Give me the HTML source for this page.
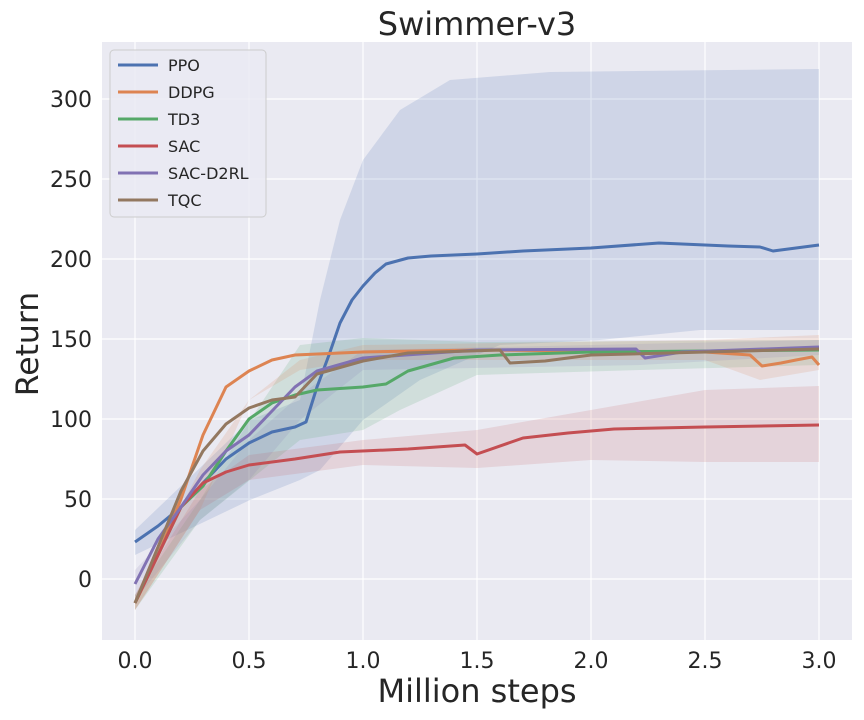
<!DOCTYPE html>
<html><head><meta charset="utf-8"><style>
body{margin:0;background:#fff;}
svg{display:block;font-family:"DejaVu Sans","Liberation Sans",sans-serif;}
</style></head><body>
<svg width="864" height="720" viewBox="0 0 864 720">
<rect x="102" y="42" width="750" height="598" fill="#eaeaf2"/>
<g stroke="#fff" stroke-width="1.2">
<line x1="135" y1="42" x2="135" y2="640"/><line x1="249" y1="42" x2="249" y2="640"/>
<line x1="363" y1="42" x2="363" y2="640"/><line x1="477" y1="42" x2="477" y2="640"/>
<line x1="591" y1="42" x2="591" y2="640"/><line x1="705" y1="42" x2="705" y2="640"/>
<line x1="819" y1="42" x2="819" y2="640"/>
<line x1="102" y1="579" x2="852" y2="579"/><line x1="102" y1="499" x2="852" y2="499"/>
<line x1="102" y1="419" x2="852" y2="419"/><line x1="102" y1="339" x2="852" y2="339"/>
<line x1="102" y1="259" x2="852" y2="259"/><line x1="102" y1="179" x2="852" y2="179"/>
<line x1="102" y1="99" x2="852" y2="99"/>
</g>
<polygon fill="#4c72b0" fill-opacity="0.17" points="135,530 250,420 300,400 320,300 340,220 363,160 400,110 450,80 550,72 819,69 819,330 700,330 600,340 500,345 420,380 363,420 320,470 300,480 250,500 135,555"/>
<polygon fill="#55a868" fill-opacity="0.17" points="135,595 200,500 250,420 300,345 363,338 477,342 819,340 819,365 640,370 477,375 400,410 363,430 300,440 250,480 200,520 135,610"/>
<polygon fill="#c44e52" fill-opacity="0.15" points="135,595 200,490 249,455 363,440 477,430 591,410 705,390 819,386 819,462 705,462 591,460 477,468 363,465 249,480 200,510 135,610"/>
<polygon fill="#dd8452" fill-opacity="0.17" points="135,595 200,470 249,400 300,360 363,345 705,340 819,335 819,370 760,380 705,360 363,360 300,370 249,400 200,510 135,610"/>
<polygon fill="#8172b3" fill-opacity="0.14" points="135,570 200,500 249,440 300,395 363,350 819,340 819,355 640,365 363,370 300,420 249,480 200,520 135,600"/>
<g fill="none" stroke-width="3" stroke-linejoin="round">
<polyline stroke="#4c72b0" points="135,542 158,526 181,507 203,483 226,459 249,443 272,432 295,427 306,422 317,387 329,355 340,323 352,300 363,286 375,273 386,264 408,258 431,256 477,254 523,251 591,248 659,243 728,246 760,247 773,251 819,245"/>
<polyline stroke="#dd8452" points="135,603 158,555 181,499 203,435 226,387 249,371 272,360 295,355 363,352 477,350 705,352 750,355 762,366 781,363 796,360 812,357 819,365"/>
<polyline stroke="#55a868" points="135,603 181,507 203,486 226,451 249,419 272,403 295,395 317,390 363,387 386,384 408,371 454,358 500,355 591,352 819,350"/>
<polyline stroke="#c44e52" points="135,603 158,555 181,507 203,483 226,472 249,465 295,459 340,452 408,449 465,445 477,454 523,438 568,433 614,429 705,427 819,425"/>
<polyline stroke="#8172b3" points="135,584 158,539 181,507 203,475 226,451 249,435 272,411 295,387 317,371 363,358 477,350 636,349 645,358 682,352 819,347"/>
<polyline stroke="#937860" points="135,603 181,491 203,451 226,424 249,408 272,400 295,397 317,374 363,361 408,353 500,350 510,363 545,361 591,355 819,349"/>
</g>
<g font-size="22" fill="#262626" text-anchor="end">
<text x="92" y="587">0</text><text x="92" y="507">50</text><text x="92" y="427">100</text>
<text x="92" y="347">150</text><text x="92" y="267">200</text><text x="92" y="187">250</text><text x="92" y="107">300</text>
</g>
<g font-size="22" fill="#262626" text-anchor="middle">
<text x="135" y="668">0.0</text><text x="249" y="668">0.5</text><text x="363" y="668">1.0</text>
<text x="477" y="668">1.5</text><text x="591" y="668">2.0</text><text x="705" y="668">2.5</text><text x="819" y="668">3.0</text>
<text x="477" y="702" font-size="32">Million steps</text>
<text x="477" y="35" font-size="32">Swimmer-v3</text>
<text transform="translate(38,344) rotate(-90)" font-size="31.5">Return</text>
</g>
<rect x="110" y="50" width="156" height="167" rx="4" fill="#eaeaf2" fill-opacity="0.8" stroke="#ccc"/>
<g stroke-width="3">
<line x1="118" y1="65" x2="158" y2="65" stroke="#4c72b0"/>
<line x1="118" y1="92" x2="158" y2="92" stroke="#dd8452"/>
<line x1="118" y1="119" x2="158" y2="119" stroke="#55a868"/>
<line x1="118" y1="146" x2="158" y2="146" stroke="#c44e52"/>
<line x1="118" y1="173" x2="158" y2="173" stroke="#8172b3"/>
<line x1="118" y1="200" x2="158" y2="200" stroke="#937860"/>
</g>
<g font-size="16" fill="#262626">
<text x="168" y="71">PPO</text><text x="168" y="98">DDPG</text><text x="168" y="125">TD3</text>
<text x="168" y="152">SAC</text><text x="168" y="179">SAC-D2RL</text><text x="168" y="206">TQC</text>
</g>
</svg>
</body></html>
